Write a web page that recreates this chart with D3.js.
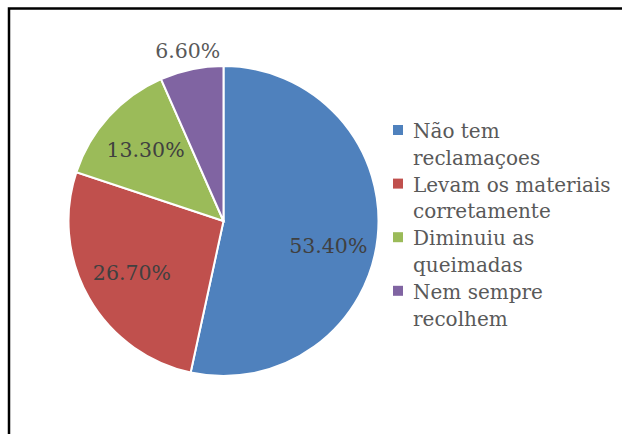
<!DOCTYPE html>
<html>
<head>
<meta charset="utf-8">
<script src="https://cdn.jsdelivr.net/npm/d3@7"></script>
<style>
  body { margin: 0; background: #fff; }
  svg { display: block; }
</style>
</head>
<body>
<svg id="chart" width="622" height="434"></svg>
<script>
// categories and shares (%)
const categories = ["Não tem reclamaçoes", "Levam os materiais corretamente", "Diminuiu as queimadas", "Nem sempre recolhem"]
const legendLines = [["Não tem", "reclamaçoes"], ["Levam os materiais", "corretamente"], ["Diminuiu as", "queimadas"], ["Nem sempre", "recolhem"]]
const values = [53.4, 26.7, 13.3, 6.6]
const valueLabels = ["53.40%", "26.70%", "13.30%", "6.60%"]
const colors = ["#4F81BD", "#C0504D", "#9BBB59", "#8064A2"]

const svg = d3.select("#chart")

// frame of the figure (cut off at right and bottom)
svg.append("path")
  .attr("d", "M9,434 V8.5 H622")
  .attr("fill", "none")
  .attr("stroke", "#000")
  .attr("stroke-width", 2.5)

const cx = 223.5, cy = 221, radius = 155

const g = svg.append("g").attr("transform", `translate(${cx},${cy})`)

const pie = d3.pie().sort(null).value(d => d)
const arcs = pie(values)

const arc = d3.arc().innerRadius(0).outerRadius(radius)

g.selectAll("path.slice")
  .data(arcs)
  .enter()
  .append("path")
  .attr("class", "slice")
  .attr("d", arc)
  .attr("fill", (d, i) => colors[i])
  .attr("stroke", "#fff")
  .attr("stroke-width", 2)

// labels inside for big slices, outside for small ones
const inner = d3.arc().innerRadius(radius * 0.68).outerRadius(radius * 0.68)
const outer = d3.arc().innerRadius(radius * 1.12).outerRadius(radius * 1.12)

g.selectAll("text.lbl")
  .data(arcs)
  .enter()
  .append("text")
  .attr("class", "lbl")
  .attr("transform", d => {
    const p = (d.data < 10 ? outer : inner).centroid(d)
    // the big slice label sits a bit lower, as in the original
    if (d.data > 50) p[1] += 14
    return `translate(${p[0]},${p[1]})`
  })
  .attr("text-anchor", "middle")
  .attr("dy", "0.35em")
  .attr("font-family", "'DejaVu Serif', serif")
  .attr("font-size", 20.5)
  .attr("fill", (d) => d.data < 10 ? "#595959" : "#404040")
  .text((d, i) => valueLabels[i])

// legend
const lineH = 26.8
const legend = svg.append("g").attr("transform", "translate(393,130)")

const item = legend.selectAll("g")
  .data(categories)
  .enter()
  .append("g")
  .attr("transform", (d, i) => `translate(0,${i * lineH * 2})`)

item.append("rect")
  .attr("x", 0)
  .attr("y", -5)
  .attr("width", 10)
  .attr("height", 10)
  .attr("fill", (d, i) => colors[i])

item.append("text")
  .attr("x", 20)
  .attr("y", 0)
  .attr("font-family", "'DejaVu Serif', serif")
  .attr("font-size", 20)
  .attr("fill", "#595959")
  .selectAll("tspan")
  .data((d, i) => legendLines[i])
  .enter()
  .append("tspan")
  .attr("x", 20)
  .attr("dy", (d, j) => j === 0 ? "0.4em" : lineH)
  .text(d => d)
</script>
</body>
</html>
